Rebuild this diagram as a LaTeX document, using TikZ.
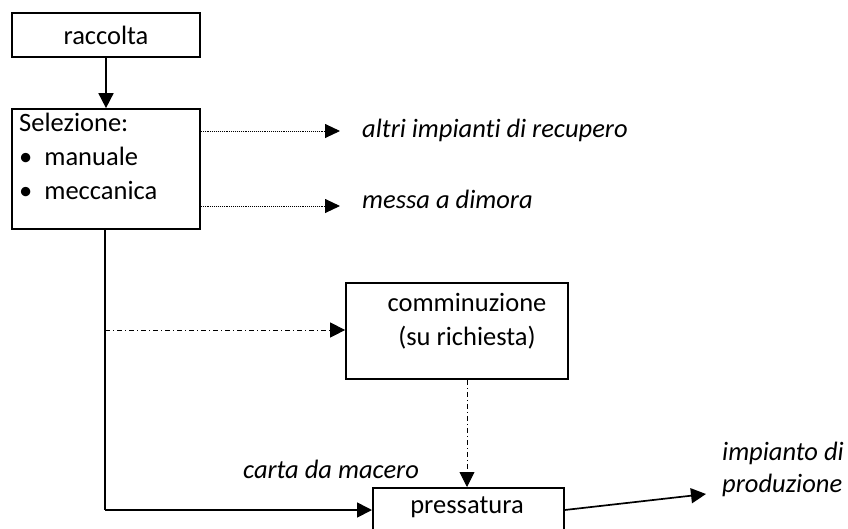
\documentclass[tikz,border=0pt]{standalone}
\usepackage{fontspec}
\setmainfont[Ligatures=NoCommon]{Carlito}
\usetikzlibrary{arrows.meta}
\begin{document}
\begin{tikzpicture}[x=1pt,y=-1pt,
  font=\fontsize{26.5}{34}\selectfont,
  box/.style={draw,line width=1.7pt,inner sep=0pt},
  lbl/.style={font=\fontsize{26.5}{32}\selectfont\itshape,inner sep=0pt},
  solidarr/.style={line width=1.7pt,-{Triangle[length=15pt,width=15pt]}},
  dotarr/.style={line width=0.9pt,dash pattern=on 0.9pt off 1pt,-{Triangle[length=15pt,width=14pt]}},
  dasharr/.style={line width=0.9pt,dash pattern=on 5pt off 3pt on 1pt off 3pt,-{Triangle[length=15pt,width=15pt]}},
  plain/.style={line width=1.7pt}]
\useasboundingbox (0,0) rectangle (848,528);
\begin{scope}
\clip (0,0) rectangle (848,528);
% boxes
\node[box,minimum width=188pt,minimum height=44pt] (racc) at (106,35) {raccolta};
\node[box,minimum width=188pt,minimum height=120pt] (sel) at (106,169) {};
\node[anchor=north west,align=left,inner sep=0pt] (seltext) at (19,113)
  {Selezione:\\[0pt]\textbullet\hspace{12pt}manuale\\\textbullet\hspace{12pt}meccanica};
\node[box,minimum width=222pt,minimum height=96pt] (comm) at (457,331) {};
\node[align=center,inner sep=0pt] (commtext) at (467,321) {comminuzione\\(su richiesta)};
\node[box,minimum width=191pt,minimum height=60pt,anchor=north west] (press) at (372,487) {};
\node[inner sep=0pt] (presstext) at (467,507) {pressatura};
% labels
\node[lbl,anchor=west] (altri) at (362,130) {altri impianti di recupero};
\node[lbl,anchor=west] (messa) at (362,199) {messa a dimora};
\node[lbl] (carta) at (331,469) {carta da macero};
\node[lbl,anchor=west,align=left] (impianto) at (722,469) {impianto di\\produzione};
% coordinates
\coordinate (a1s) at (sel.east |- 0,131);
\coordinate (a1e) at (340,131);
\coordinate (a2s) at (sel.east |- 0,206);
\coordinate (a2e) at (340,206);
\coordinate (corner) at (105,510);
\coordinate (branch) at (105,330);
\coordinate (pin) at (press.west |- 0,510);
\coordinate (pout) at (press.east |- 0,510);
\coordinate (impe) at (706,494);
% connectors
\draw[solidarr] (racc.south) -- (sel.north);
\draw[dotarr] (a1s) -- (a1e);
\draw[dotarr] (a2s) -- (a2e);
\draw[plain] (105,0 |- sel.south) -- (corner);
\draw[solidarr] (corner) -- (pin);
\draw[dasharr] (branch) -- (comm.west |- branch);
\draw[dasharr] (467,0 |- comm.south) -- (467,0 |- press.north);
\draw[solidarr] (pout) -- (impe);
\end{scope}
\end{tikzpicture}
\end{document}
